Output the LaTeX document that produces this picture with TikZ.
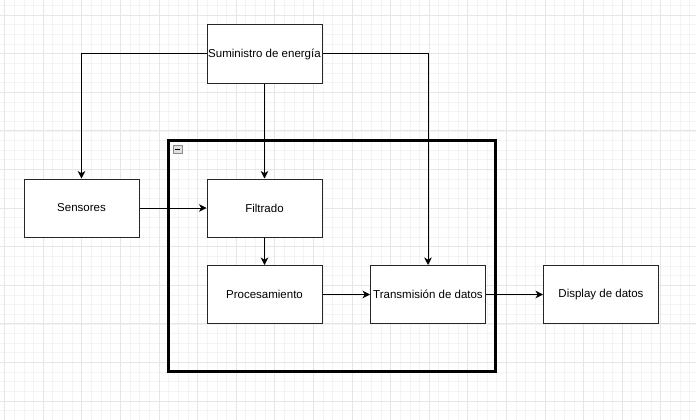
\documentclass[tikz,border=0pt]{standalone}
\usepackage{fontspec}
\setmainfont{Liberation Sans}
\usepackage{xcolor}
\definecolor{gridminor}{HTML}{F4F4F4}
\definecolor{gridmajor}{HTML}{E6E6E6}
\usetikzlibrary{shapes,arrows}
\usetikzlibrary{patterns,arrows.meta}
\usetikzlibrary{calc}

\begin{document}
\begin{tikzpicture}[
            x=1pt, y=-1pt,
            auto, >={Stealth[length=7.5pt, width=7.5pt, inset=2.2pt]},
            block/.style={draw, black!85, line width=1pt, rectangle, fill=white, text=black,
                minimum height=58pt, minimum width=115pt, inner sep=0pt, align=center,
                font=\fontsize{11.5}{13}\selectfont},
            container/.style={draw, black, line width=3pt, rectangle, minimum width=327pt, minimum height=230.5pt, inner sep=0pt},
            link/.style={->, black, line width=1pt},
            input/.style={coordinate},
        ]
            \useasboundingbox (0,0) rectangle (696,420);
            % grid
            \foreach \i in {0,...,72}
                \draw [gridminor, line width=0.6pt] ({4.5+\i*9.65},0) -- ({4.5+\i*9.65},420);
            \foreach \i in {-1,...,43}
                \draw [gridminor, line width=0.6pt] (0,{15+\i*9.65}) -- (696,{15+\i*9.65});
            \foreach \i in {0,...,18}
                \draw [gridmajor, line width=0.8pt] ({4.5+\i*38.6},0) -- ({4.5+\i*38.6},420);
            \foreach \i in {0,...,10}
                \draw [gridmajor, line width=0.8pt] (0,{15+\i*38.6}) -- (696,{15+\i*38.6});

            \node [container] (grupo) at (332,255.75) {};
            \node [draw=black!45, fill=black!12, line width=0.6pt, minimum size=8.5pt, inner sep=0pt] (toggle) at (177.6,149.2) {};
            \draw [black, line width=1pt] ([xshift=2pt]toggle.west) -- ([xshift=-2pt]toggle.east);

            \node [block] (energia) at (264.5,54) {Suministro de energía};
            \node [block] (sensores) at (81.5,208) {Sensores};
            \node [block] (filtrado) at (264.5,208) {Filtrado};
            \node [block] (proceso) at (264.5,294.5) {Procesamiento};
            \node [block] (transmision) at (428,294.5) {Transmisión de datos};
            \node [block] (display) at (601,294.5) {Display de datos};

            \draw [link] (energia.west) -| (sensores.north);
            \draw [link] (energia) -- (filtrado);
            \draw [link] (energia.east) -| (transmision.north);
            \draw [link] (sensores) -- (filtrado);
            \draw [link] (filtrado) -- (proceso);
            \draw [link] (proceso) -- (transmision);
            \draw [link] (transmision) -- (display);
        \end{tikzpicture}
\end{document}
